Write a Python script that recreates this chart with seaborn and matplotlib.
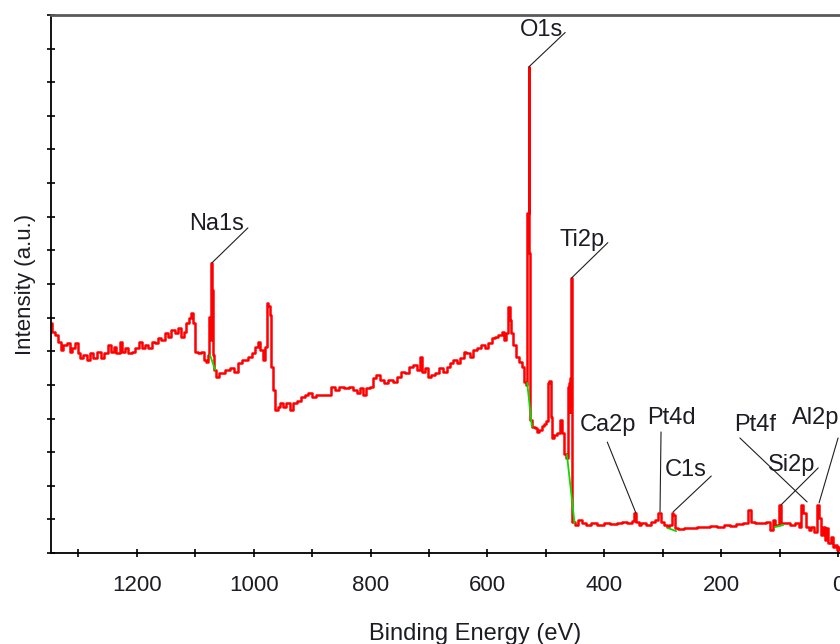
import matplotlib
matplotlib.use("Agg")
import matplotlib.pyplot as plt
import pandas as pd
import seaborn as sns

# ---------------- data ----------------
binding_energy = [
    1346, 1343, 1337, 1332, 1329, 1323, 1317, 1313, 1308, 1303, 1299, 1295, 1289, 1283,
    1277, 1272, 1264, 1259, 1252, 1246, 1241, 1238, 1232, 1227, 1223, 1218, 1212, 1206,
    1199, 1194, 1189, 1183, 1178, 1172, 1166, 1161, 1155, 1149, 1144, 1138, 1132, 1126,
    1122, 1118, 1113, 1109, 1105, 1102, 1098, 1092, 1088, 1083, 1080,
    1077, 1076, 1074, 1072, 1070, 1069, 1066, 1062, 1058, 1053, 1046, 1037, 1029, 1024,
    1015, 1006, 1001, 994, 991, 986, 984, 977, 976, 974, 971, 969, 966, 960,
    958, 952, 947, 941, 935, 929, 924, 915, 909, 904, 898, 890, 878, 870, 864, 858, 850,
    841, 832, 827, 821, 815, 811, 805, 798, 793, 787, 781, 772, 767, 758, 751, 744, 738,
    730, 724, 718, 713, 710, 704, 700, 693, 687, 678, 673, 667, 661, 656, 650, 644, 638,
    634, 627, 621, 614, 607, 601, 596, 590, 584, 579, 573, 569, 566, 563, 560, 558, 553,
    548, 543, 539, 536,
    533, 532, 530, 529, 528, 527, 526, 522, 517, 513, 510, 505, 501, 498, 496, 493, 491,
    488, 484, 479, 474, 471, 467, 464, 462, 460, 459, 458, 456, 455, 454,
    447, 442, 436, 428, 419, 407, 395, 385, 373, 365, 356, 351, 348, 344, 339, 334, 325,
    317, 310, 305, 301, 296, 291, 286, 284, 281, 277, 270, 259, 248, 236, 224, 214, 202,
    190, 180, 168, 156, 152, 147, 139, 128, 120, 113, 111, 104, 102, 100, 96, 87, 79, 70,
    65, 62, 58, 53, 48, 43, 38, 34, 31, 27, 24, 21, 19, 15, 10, 9, 3, 0, -3,
]
intensity = [
    68.5, 65.8, 64.9, 62.8, 60.4, 61.9, 62.5, 59.8, 61.0, 62.5, 59.5, 58.0, 58.9, 57.4,
    59.5, 58.0, 59.8, 58.0, 59.5, 61.9, 59.8, 61.3, 59.5, 62.8, 59.8, 61.0, 59.5, 59.8,
    61.0, 62.8, 61.0, 61.9, 61.0, 62.8, 62.5, 64.0, 63.4, 65.5, 64.3, 66.4, 65.5, 67.0,
    64.3, 65.8, 68.5, 69.9, 71.4, 68.5, 59.8, 59.5, 59.8, 57.4, 56.8,
    58.9, 70.2, 63.4, 86.3, 78.3, 58.9, 54.5, 52.4, 53.6, 53.6, 54.5, 55.1, 53.9, 56.5,
    57.4, 58.3, 59.5, 61.3, 62.8, 60.4, 57.4, 61.3, 74.4, 73.5, 70.8, 55.4, 48.5, 42.6,
    43.5, 44.6, 43.5, 44.6, 42.6, 44.6, 45.2, 46.4, 47.0, 47.6, 46.4, 47.0, 47.0, 47.0,
    49.4, 48.5, 49.4, 49.1, 49.4, 48.5, 47.6, 49.1, 47.0, 49.1, 49.4, 52.1, 53.0, 51.5,
    50.6, 51.5, 50.9, 52.4, 53.9, 53.6, 55.4, 56.0, 54.5, 58.3, 53.9, 55.1, 52.4, 53.0,
    53.6, 55.1, 53.9, 55.4, 56.5, 57.4, 56.5, 58.0, 59.8, 59.5, 58.3, 60.4, 61.0, 61.9,
    61.0, 62.5, 64.0, 64.3, 64.9, 65.8, 63.4, 65.5, 73.2, 69.3, 65.5, 61.9, 58.3, 56.8,
    55.4, 50.9,
    50.0, 101.2, 101.2, 144.6, 89.3, 89.3, 39.6, 37.5, 37.2, 36.0, 36.6, 37.8, 38.4, 39.3,
    50.6, 51.2, 40.5, 34.2, 35.1, 35.7, 39.6, 35.7, 29.5, 28.3, 49.4, 50.6, 42.0, 52.0,
    81.8, 70.8, 9.2,
    8.3, 9.8, 8.9, 8.3, 8.9, 8.3, 8.9, 8.6, 8.9, 9.2, 8.9, 9.5, 11.9, 9.2, 8.3, 8.9, 8.3,
    9.2, 9.8, 11.9, 9.2, 8.3, 7.7, 8.3, 11.9, 11.3, 7.4, 7.1, 7.4, 7.4, 7.7, 7.7, 8.0, 7.7,
    8.3, 8.0, 8.6, 8.9, 12.8, 9.2, 8.9, 8.9, 9.2, 6.8, 9.8, 8.3, 8.3, 14.3, 8.9, 8.9, 8.3,
    8.9, 7.7, 14.3, 11.9, 7.7, 6.8, 7.7, 6.3, 14.3, 10.4, 5.4, 7.7, 3.9, 7.4, 3.0, 4.8,
    1.8, 2.4, 0.9, 1.8,
]

# fitted-background (green) segments
bg_na_be, bg_na_int = [1075, 1066], [58.9, 54.5]
bg_o_be, bg_o_int = [532, 524], [50.6, 37.5]
bg_ti_be, bg_ti_int = [464, 451], [29.2, 8.9]
bg_c_be, bg_c_int = [291, 277], [7.4, 6.5]
bg_si_be, bg_si_int = [108, 94], [7.7, 8.3]

# peak labels
peak_names = ["O1s", "Na1s", "Ti2p", "Ca2p", "Pt4d", "C1s", "Pt4f", "Si2p", "Al2p"]
peak_tip_be = [529, 1071.5, 456, 346, 304.7, 282.4, 53, 97.6, 32.5]
peak_tip_int = [144.6, 86.3, 81.8, 11.9, 12.2, 12.2, 15.2, 14.3, 14.9]

# annotation layout (label centre and leader end)
label_be = [508, 1064, 438, 394, 286, 260, 142, 79, 38]
label_int = [155.6, 97.9, 93.2, 38.1, 40.2, 24.7, 38.1, 26.2, 40.2]
leader_be = [467, 1010, 394, 395, 303, 217, 168, 34, 0]
leader_int = [154.8, 96.7, 92.3, 33.0, 36.0, 22.9, 34.2, 25.3, 34.2]

x_major = [0, 200, 400, 600, 800, 1000, 1200]
x_minor = [100, 300, 500, 700, 900, 1100, 1300]
y_ticks = list(range(0, 170, 10))

# ---------------- drawing ----------------
sns.set_theme(style="ticks")
plt.rcParams["font.family"] = ["Liberation Sans", "DejaVu Sans"]
text_color = "#1c1c24"

fig = plt.figure(figsize=(8.4, 6.44), dpi=100)
ax = fig.add_axes([51 / 840, 91 / 644, 849 / 840, 538 / 644])

df = pd.DataFrame({"be": binding_energy, "int": intensity})
sns.lineplot(data=df, x="be", y="int", sort=False, estimator=None,
             color="#ff0000", lw=1.8, drawstyle="steps-mid", ax=ax)

for bx, by in [(bg_na_be, bg_na_int), (bg_o_be, bg_o_int), (bg_ti_be, bg_ti_int),
               (bg_c_be, bg_c_int), (bg_si_be, bg_si_int)]:
    sns.lineplot(x=bx, y=by, sort=False, estimator=None, color="#00e000", lw=1.3, ax=ax)

for name, tx, ty, lx, ly, ex, ey in zip(peak_names, peak_tip_be, peak_tip_int,
                                         label_be, label_int, leader_be, leader_int):
    ax.annotate("", xy=(tx, ty), xytext=(ex, ey),
                arrowprops=dict(arrowstyle="-", color="#202020", lw=0.8,
                                shrinkA=0, shrinkB=0))
    ax.text(lx, ly, name, ha="center", va="center", fontsize=17, color=text_color)

ax.set_xlim(1347, -106)
ax.set_ylim(0, 160)
ax.set_xticks(x_major)
ax.set_xticks(x_minor, minor=True)
ax.set_yticks(y_ticks)
ax.set_yticklabels([])
ax.tick_params(axis="both", which="both", direction="inout", length=6, width=1.2,
               color="black")
ax.tick_params(axis="x", which="major", labelsize=16, labelcolor=text_color, pad=13)
ax.tick_params(axis="y", left=True, labelleft=False)

ax.set_xlabel("Binding Energy (eV)", fontsize=17, color=text_color, labelpad=19)
ax.set_ylabel("Intensity (a.u.)", fontsize=16, color=text_color, labelpad=8)

for s in ["left", "bottom"]:
    ax.spines[s].set_color("black")
    ax.spines[s].set_linewidth(1.3)
ax.spines["top"].set_color("#5a5a5a")
ax.spines["top"].set_linewidth(2.0)
ax.spines["right"].set_visible(False)
ax.set_facecolor("white")
fig.patch.set_facecolor("white")

fig.savefig("out.png", dpi=100)
